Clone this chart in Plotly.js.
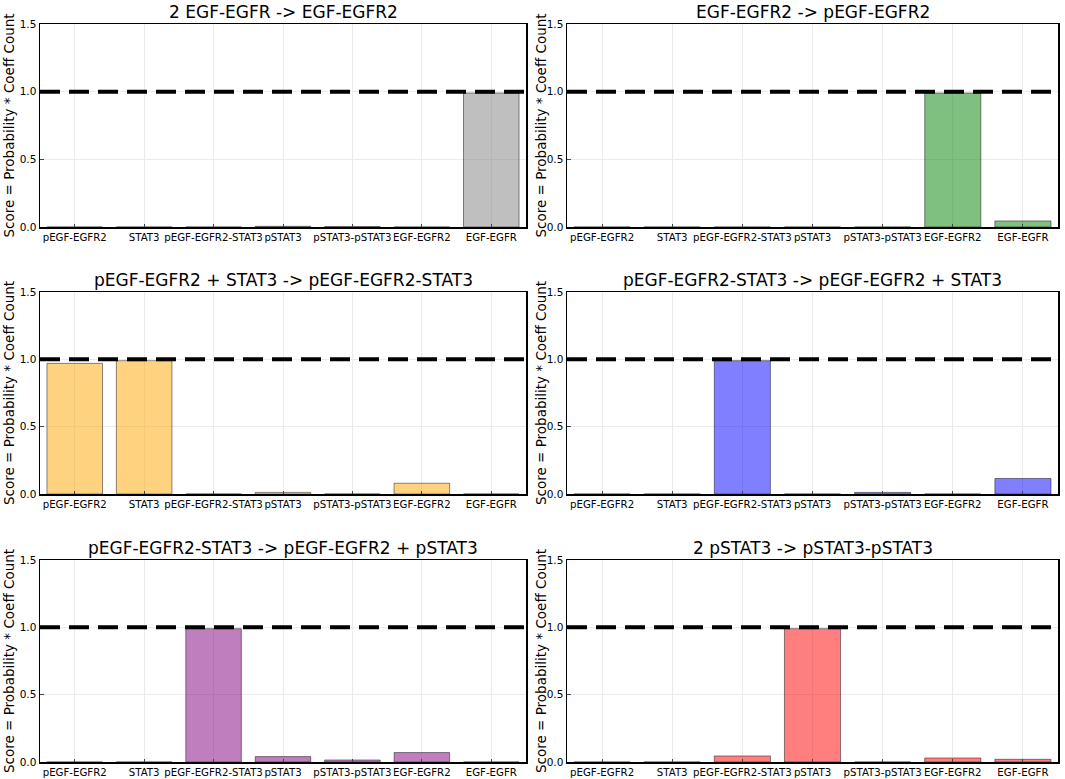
<!DOCTYPE html>
<html>
<head>
<meta charset="utf-8">
<script src="https://cdn.plot.ly/plotly-3.0.1.min.js"></script>
<style>
  html, body { margin: 0; padding: 0; background: #fff; }
  #main { width: 1065px; height: 779px; }
</style>
</head>
<body>
<div id="main"></div>
<script>
const species = ['pEGF-EGFR2', 'STAT3', 'pEGF-EGFR2-STAT3', 'pSTAT3', 'pSTAT3-pSTAT3', 'EGF-EGFR2', 'EGF-EGFR']

const titles = [
  '2 EGF-EGFR -> EGF-EGFR2',
  'EGF-EGFR2 -> pEGF-EGFR2',
  'pEGF-EGFR2 + STAT3 -> pEGF-EGFR2-STAT3',
  'pEGF-EGFR2-STAT3 -> pEGF-EGFR2 + STAT3',
  'pEGF-EGFR2-STAT3 -> pEGF-EGFR2 + pSTAT3',
  '2 pSTAT3 -> pSTAT3-pSTAT3',
]

const scores1 = [0, 0, 0, 0.005, 0.003, 0, 0.99]
const scores2 = [0, 0, 0, 0, 0, 0.99, 0.045]
const scores3 = [0.97, 0.99, 0, 0.012, 0, 0.08, 0]
const scores4 = [0, 0, 0.99, 0, 0.012, 0, 0.115]
const scores5 = [0, 0, 0.99, 0.04, 0.015, 0.07, 0]
const scores6 = [0, 0, 0.045, 0.99, 0, 0.03, 0.02]

const colors = ['grey', 'green', 'orange', 'blue', 'purple', 'red']
const threshold = 1.0
const yTitle = 'Score = Probability * Coeff Count'

const allScores = [scores1, scores2, scores3, scores4, scores5, scores6]

// panel boxes in pixels (left, right, top, bottom)
const W = 1065, H = 779
const cols = [[40, 526], [567, 1058]]
const rows = [[24, 227], [292, 494], [560, 762]]
const yTitleX = [9, 541]

const fill = {
  grey: 'rgba(128,128,128,0.5)',
  green: 'rgba(0,128,0,0.5)',
  orange: 'rgba(255,165,0,0.5)',
  blue: 'rgba(0,0,255,0.5)',
  purple: 'rgba(128,0,128,0.5)',
  red: 'rgba(255,0,0,0.5)',
}

const font = 'DejaVu Sans, sans-serif'
const data = []
const layout = {
  width: W,
  height: H,
  margin: { l: 0, r: 0, t: 0, b: 0 },
  paper_bgcolor: '#fff',
  plot_bgcolor: '#fff',
  showlegend: false,
  bargap: 0.2,
  font: { family: font, color: '#000' },
  annotations: [],
  shapes: [],
}

allScores.forEach((scores, i) => {
  const n = i + 1
  const sfx = n === 1 ? '' : String(n)
  const c = cols[i % 2]
  const r = rows[Math.floor(i / 2)]

  data.push({
    x: species,
    y: scores,
    type: 'bar',
    xaxis: 'x' + sfx,
    yaxis: 'y' + sfx,
    marker: { color: fill[colors[i]], line: { color: 'rgba(0,0,0,0.45)', width: 1 } },
    hoverinfo: 'x+y',
  })

  layout['xaxis' + sfx] = {
    domain: [c[0] / W, c[1] / W],
    anchor: 'y' + sfx,
    type: 'category',
    range: [-0.5, 6.5],
    showgrid: true,
    gridcolor: '#ebebeb',
    gridwidth: 1,
    showline: true,
    linecolor: '#000',
    linewidth: 1.5,
    mirror: true,
    ticks: 'inside',
    ticklen: 3,
    tickfont: { size: 10.2, family: font, color: '#000' },
    tickangle: 0,
    zeroline: false,
    fixedrange: true,
  }
  layout['yaxis' + sfx] = {
    domain: [1 - r[1] / H, 1 - r[0] / H],
    anchor: 'x' + sfx,
    range: [0, 1.5],
    tickvals: [0, 0.5, 1.0, 1.5],
    tickformat: '.1f',
    showgrid: true,
    gridcolor: '#ebebeb',
    gridwidth: 1,
    showline: true,
    linecolor: '#000',
    linewidth: 1.5,
    mirror: true,
    ticks: 'inside',
    ticklen: 4,
    tickfont: { size: 10.5, family: font, color: '#000' },
    zeroline: false,
    fixedrange: true,
  }

  layout.shapes.push({
    type: 'line',
    xref: 'x' + sfx + ' domain',
    yref: 'y' + sfx,
    x0: 0,
    x1: 1,
    y0: threshold,
    y1: threshold,
    line: { color: '#000', width: 4, dash: '20px,9px' },
  })

  layout.annotations.push({
    text: titles[i],
    xref: 'paper',
    yref: 'paper',
    x: (c[0] + c[1]) / 2 / W,
    y: 1 - (r[0] - 12) / H,
    xanchor: 'center',
    yanchor: 'middle',
    showarrow: false,
    font: { size: 17, family: font, color: '#000' },
  })

  layout.annotations.push({
    text: yTitle,
    xref: 'paper',
    yref: 'paper',
    x: yTitleX[i % 2] / W,
    y: 1 - (r[0] + r[1]) / 2 / H,
    xanchor: 'center',
    yanchor: 'middle',
    textangle: -90,
    showarrow: false,
    font: { size: 13.5, family: font, color: '#000' },
  })
})

Plotly.newPlot('main', data, layout, { staticPlot: true })
</script>
</body>
</html>
